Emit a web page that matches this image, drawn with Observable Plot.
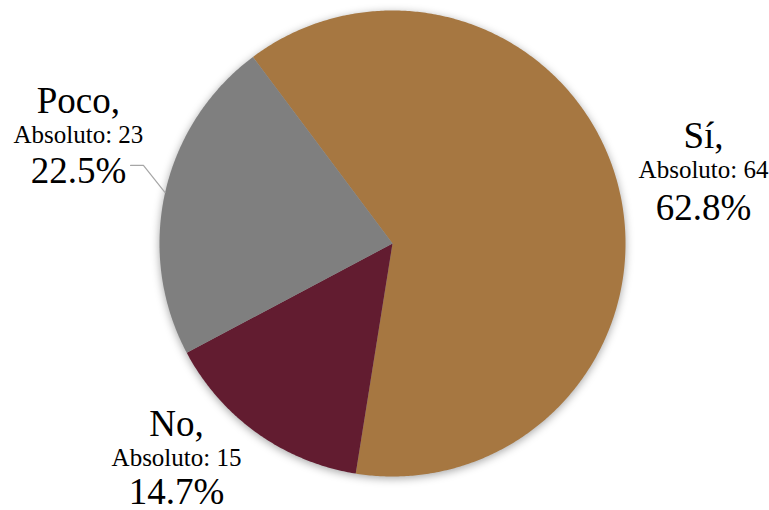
<!DOCTYPE html>
<html>
<head>
<meta charset="utf-8">
<script src="https://cdn.jsdelivr.net/npm/d3@7"></script>
<script src="https://cdn.jsdelivr.net/npm/@observablehq/plot@0.6"></script>
<style>
  html, body { margin: 0; padding: 0; background: #fff; }
  #chart svg { display: block; }
  #chart svg text { font-family: "Liberation Serif", "Times New Roman", serif !important; }
  .pie-shadow { filter: drop-shadow(0px 2px 4px rgba(0,0,0,0.35)); }
</style>
</head>
<body>
<div id="chart"></div>
<script>
// ---- data ----
const categories = ["Sí", "No", "Poco"];
const counts = [64, 15, 23];
const percentLabels = ["62.8%", "14.7%", "22.5%"];
const absLabels = ["Absoluto: 64", "Absoluto: 15", "Absoluto: 23"];
const colors = ["#A67741", "#621C30", "#7F7F7F"];

// ---- layout (unit-circle coordinates) ----
const startDeg = -36.8;
const labelX = [1.335, -0.927, -1.348];
const titleY = [0.408, -0.828, 0.562];
const absY = [0.279, -0.953, 0.433];
const pctY = [0.099, -1.116, 0.258];
const FONT = "Liberation Serif";

// ---- build slices ----
const arcs = d3.pie().sort(null)
  .startAngle(startDeg * Math.PI / 180)
  .endAngle(startDeg * Math.PI / 180 + 2 * Math.PI)(counts);

const slicePts = [];
arcs.forEach((a, i) => {
  const cat = categories[i];
  slicePts.push({cat, x: 0, y: 0});
  const n = Math.max(2, Math.ceil((a.endAngle - a.startAngle) / (Math.PI / 360)));
  for (let k = 0; k <= n; k++) {
    const t = a.startAngle + (a.endAngle - a.startAngle) * k / n;
    slicePts.push({cat, x: Math.sin(t), y: Math.cos(t)});
  }
});

const labels = categories.map((c, i) => ({
  cat: c, title: c + ",", abs: absLabels[i], pct: percentLabels[i],
  x: labelX[i], ty: titleY[i], ay: absY[i], py: pctY[i]
}));

// leader line for "Poco" (to the slice mid-angle on the rim)
const pocoIdx = categories.indexOf("Poco");
const mid = (arcs[pocoIdx].startAngle + arcs[pocoIdx].endAngle) / 2;
const leader = [
  {x: -1.124, y: 0.335},
  {x: -1.069, y: 0.335},
  {x: Math.sin(mid), y: Math.cos(mid)}
];

const chart = Plot.plot({
  width: 769,
  height: 510,
  marginLeft: 159,
  marginRight: 144,
  marginTop: 10,
  marginBottom: 34,
  x: {domain: [-1, 1], axis: null},
  y: {domain: [-1, 1], axis: null},
  color: {domain: categories, range: colors},
  style: {background: "white", overflow: "visible"},
  marks: [
    Plot.line(slicePts, {x: "x", y: "y", z: "cat", fill: "cat", stroke: "none", curve: "linear-closed", className: "pie-shadow"}),
    Plot.line(leader, {x: "x", y: "y", stroke: "#A6A6A6", strokeWidth: 1.2}),
    Plot.text(labels, {x: "x", y: "ty", text: "title", fontFamily: FONT, fontSize: 37, lineAnchor: "bottom", textAnchor: "middle", fill: "#000"}),
    Plot.text(labels, {x: "x", y: "ay", text: "abs", fontFamily: FONT, fontSize: 25, lineAnchor: "bottom", textAnchor: "middle", fill: "#000"}),
    Plot.text(labels, {x: "x", y: "py", text: "pct", fontFamily: FONT, fontSize: 37, lineAnchor: "bottom", textAnchor: "middle", fill: "#000"})
  ]
});
document.getElementById("chart").appendChild(chart);
</script>
</body>
</html>
